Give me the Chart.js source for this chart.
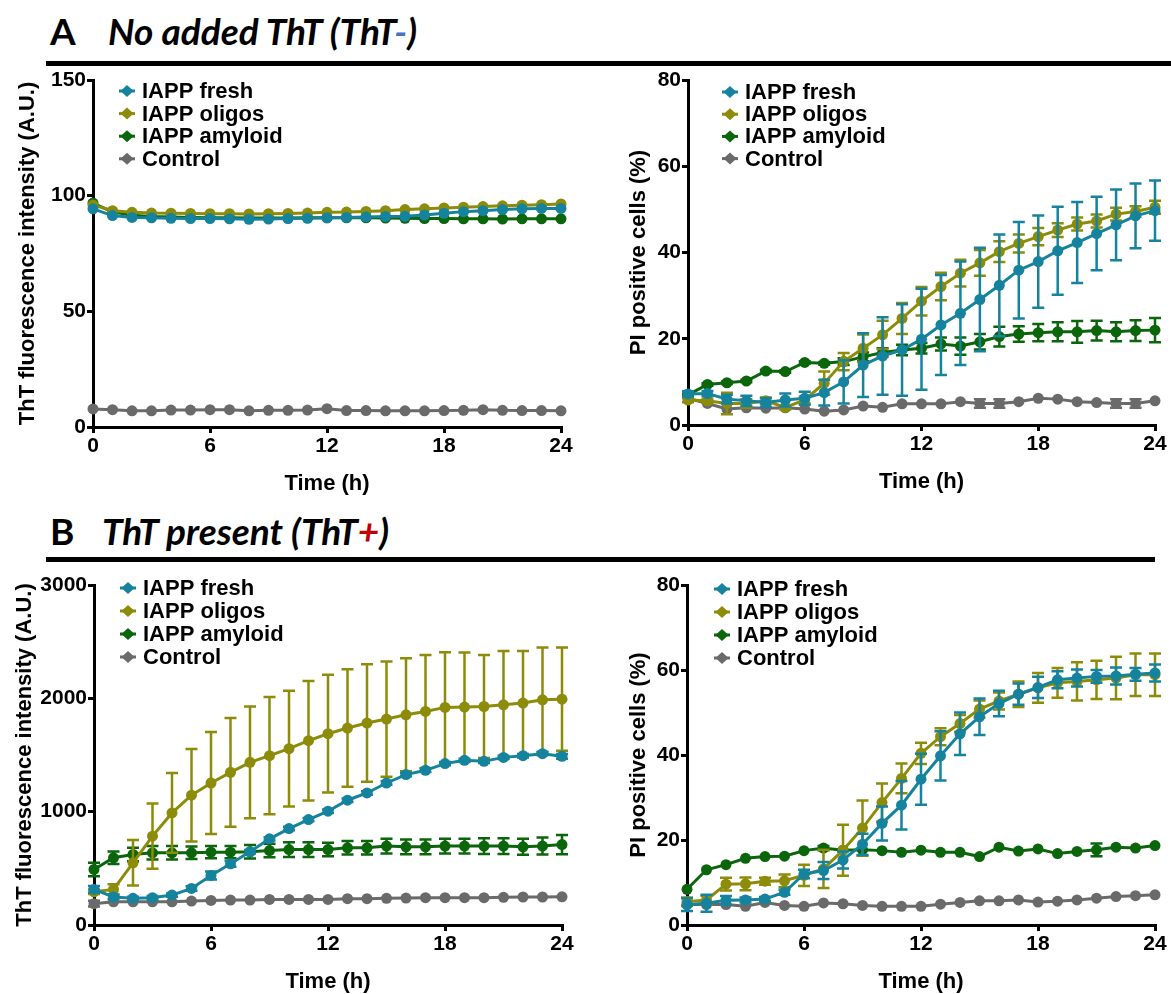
<!DOCTYPE html>
<html>
<head>
<meta charset="utf-8">
<script src="https://cdn.jsdelivr.net/npm/chart.js@4.4.1/dist/chart.umd.min.js"></script>
<style>
  html, body { margin: 0; padding: 0; background: #fff; }
  #page { position: relative; width: 1171px; height: 994px; overflow: hidden; }
  canvas { position: absolute; }
  .hdr { position: absolute; font-family: Lato, "Open Sans", sans-serif; font-weight: 700; font-size: 37px; line-height: 37px; color: #000; white-space: nowrap; }
  .hdr i { font-style: italic; }
  .rule { position: absolute; height: 5px; background: #000; }
</style>
</head>
<body>
<div id="page">
  <div class="hdr" style="left:50px; top:12px">A</div>
  <div class="hdr" style="left:108px; top:12px"><i>No added ThT (ThT<span style="color:#4472c4">-</span>)</i></div>
  <div class="rule" style="left:46px; top:61px; width:1125px"></div>

  <div class="hdr" style="left:50px; top:512px">B</div>
  <div class="hdr" style="left:102px; top:512px"><i>ThT present (ThT<span style="color:#c00000">+</span>)</i></div>
  <div class="rule" style="left:46px; top:557px; width:1109px"></div>

  <canvas id="aFluo" width="590" height="444" style="left:0; top:66px"></canvas>
  <canvas id="aPi" width="576" height="444" style="left:595px; top:66px"></canvas>
  <canvas id="bFluo" width="590" height="428" style="left:0; top:566px"></canvas>
  <canvas id="bPi" width="576" height="428" style="left:595px; top:566px"></canvas>
</div>

<script>
// Data
const hours = [0, 1, 2, 3, 4, 5, 6, 7, 8, 9, 10, 11, 12, 13, 14, 15, 16, 17, 18, 19, 20, 21, 22, 23, 24];
const timeTicks = [0, 6, 12, 18, 24];
const fluoTicksA = [0, 50, 100, 150];
const fluoTicksB = [0, 1000, 2000, 3000];
const piTicks = [0, 20, 40, 60, 80];
const seriesNames = ["IAPP fresh", "IAPP oligos", "IAPP amyloid", "Control"];

// A: no added ThT, ThT fluorescence
const aFluoFresh = [94.3, 91.4, 90.6, 90.4, 90.2, 90.1, 90.1, 90.0, 89.8, 89.9, 90.1, 90.2, 90.4, 90.6, 90.8, 91.0, 91.1, 91.6, 92.4, 93.1, 93.5, 94.0, 94.3, 94.5, 94.5];
const aFluoOligos = [96.0, 93.5, 92.8, 92.5, 92.4, 92.3, 92.2, 92.2, 92.1, 92.2, 92.3, 92.5, 92.8, 92.9, 93.2, 93.5, 94.0, 94.3, 94.7, 95.0, 95.3, 95.6, 95.9, 96.1, 96.4];
const aFluoAmyloid = [96.8, 93.0, 91.5, 91.0, 90.8, 90.6, 90.5, 90.4, 90.3, 90.3, 90.3, 90.4, 90.4, 90.4, 90.4, 90.3, 90.2, 90.1, 90.1, 90.0, 90.0, 89.9, 90.0, 90.0, 90.0];
const aFluoControl = [7.8, 7.5, 7.0, 7.0, 7.3, 7.3, 7.5, 7.5, 7.0, 7.2, 7.2, 7.3, 7.9, 7.1, 7.1, 7.0, 7.0, 7.0, 7.1, 7.2, 7.5, 7.2, 7.1, 7.1, 7.0];

// A: no added ThT, PI positive cells
const aPiFresh = [7.2, 7.3, 6.0, 5.6, 5.2, 5.8, 6.2, 7.5, 10.0, 13.9, 16.0, 17.4, 19.9, 23.2, 25.9, 29.1, 32.4, 35.9, 37.9, 40.4, 42.3, 44.4, 46.4, 48.5, 49.7];
const aPiFreshErr = [0.6, 0.6, 1.0, 1.2, 1.0, 1.5, 1.5, 3.0, 5.0, 7.4, 9.0, 10.6, 11.7, 11.6, 12.0, 12.0, 11.8, 11.2, 10.7, 10.2, 9.4, 8.5, 8.2, 7.5, 7.0];
const aPiOligos = [5.8, 5.6, 5.0, 5.0, 5.6, 4.1, 5.8, 9.7, 14.7, 17.8, 20.9, 24.7, 28.7, 32.1, 35.2, 37.6, 40.2, 42.1, 43.7, 45.2, 46.6, 47.3, 48.9, 49.5, 50.5];
const aPiOligosErr = [0.5, 0.5, 2.5, 1.0, 0.8, 0.5, 0.8, 2.7, 2.0, 3.2, 3.3, 3.6, 3.3, 3.2, 3.1, 3.0, 2.4, 2.1, 2.0, 1.6, 1.5, 1.5, 1.5, 1.2, 1.5];
const aPiAmyloid = [7.0, 9.4, 9.8, 10.2, 12.5, 12.4, 14.5, 14.3, 14.7, 15.8, 16.8, 17.4, 17.8, 18.8, 18.3, 19.3, 20.5, 21.1, 21.4, 21.6, 21.6, 21.9, 21.6, 21.9, 22.0];
const aPiAmyloidErr = [0.3, 0.3, 0.3, 0.3, 0.3, 0.3, 0.3, 0.3, 0.8, 1.0, 1.0, 1.2, 1.2, 1.5, 2.0, 1.8, 2.3, 1.8, 2.0, 2.2, 2.5, 2.3, 2.2, 2.4, 2.8];
const aPiControl = [6.2, 5.0, 3.7, 4.0, 3.9, 4.0, 3.7, 3.2, 3.5, 4.4, 4.1, 4.9, 4.9, 4.9, 5.4, 5.0, 5.0, 5.4, 6.2, 6.0, 5.4, 5.2, 5.0, 5.0, 5.6];
const aPiControlErr = [0, 0, 0, 0, 0, 0, 0, 0, 0, 0, 0, 0, 0, 0, 0, 1.0, 1.0, 0, 0, 0, 0, 0, 1.0, 1.0, 0];

// B: ThT present, ThT fluorescence
const bFluoFresh = [314, 247, 235, 241, 264, 323, 437, 540, 646, 760, 851, 930, 1004, 1101, 1165, 1253, 1327, 1365, 1424, 1453, 1444, 1479, 1494, 1512, 1488];
const bFluoFreshErr = [30, 20, 15, 15, 15, 20, 35, 25, 15, 15, 15, 15, 15, 15, 15, 15, 15, 15, 15, 15, 15, 15, 15, 15, 20];
const bFluoOligos = [293, 314, 549, 784, 989, 1145, 1253, 1347, 1435, 1494, 1556, 1626, 1688, 1738, 1782, 1817, 1855, 1884, 1920, 1923, 1928, 1943, 1958, 1987, 1993];
const bFluoOligosErr = [20, 45, 200, 287, 352, 408, 449, 479, 493, 517, 510, 528, 519, 519, 519, 508, 499, 499, 487, 481, 455, 475, 460, 461, 455];
const bFluoAmyloid = [490, 593, 622, 637, 637, 637, 643, 643, 646, 657, 666, 666, 666, 681, 681, 696, 690, 690, 696, 696, 696, 696, 690, 696, 710];
const bFluoAmyloidErr = [60, 55, 60, 60, 60, 55, 55, 55, 60, 60, 65, 65, 60, 60, 60, 65, 65, 65, 65, 65, 70, 70, 70, 75, 85];
const bFluoControl = [188, 205, 205, 205, 205, 211, 217, 220, 220, 226, 226, 226, 226, 232, 232, 235, 238, 241, 241, 241, 241, 244, 247, 247, 249];
const bFluoControlErr = [25, 0, 0, 0, 0, 0, 0, 0, 0, 0, 0, 0, 0, 0, 0, 0, 0, 0, 0, 0, 0, 0, 0, 0, 0];

// B: ThT present, PI positive cells
const bPiFresh = [4.8, 5.1, 5.8, 5.9, 6.1, 7.7, 12.0, 12.8, 15.3, 19.0, 23.9, 28.2, 34.3, 39.8, 45.0, 49.0, 52.1, 54.3, 55.9, 57.7, 58.1, 58.5, 58.6, 59.0, 59.3];
const bPiFreshErr = [1.5, 2.0, 1.0, 0.6, 0.5, 0.6, 1.0, 2.0, 2.0, 2.5, 4.0, 5.7, 6.0, 5.8, 5.0, 4.3, 3.0, 2.5, 2.5, 2.0, 2.0, 1.5, 2.0, 1.5, 2.0];
const bPiOligos = [5.5, 5.9, 9.6, 9.7, 10.3, 10.4, 11.7, 13.2, 17.6, 22.8, 28.8, 34.5, 40.4, 44.3, 47.4, 50.8, 52.7, 54.3, 55.8, 57.0, 57.3, 57.7, 58.1, 58.9, 58.9];
const bPiOligosErr = [1.0, 1.0, 1.5, 1.5, 0.8, 1.5, 2.5, 4.5, 6.0, 6.5, 4.5, 3.5, 2.5, 2.0, 2.0, 2.0, 2.0, 3.0, 3.5, 3.5, 4.5, 4.5, 5.0, 5.0, 5.0];
const bPiAmyloid = [8.4, 13.0, 14.2, 15.7, 16.1, 16.2, 17.5, 18.1, 17.6, 17.7, 17.5, 17.1, 17.6, 17.1, 17.1, 16.1, 18.3, 17.4, 17.9, 16.8, 17.3, 17.7, 18.3, 18.1, 18.7];
const bPiAmyloidErr = [0, 0, 0, 0, 0, 0, 0, 0.5, 0, 0, 0, 0, 0, 0, 0, 0, 0, 0, 0, 0, 0, 1.5, 0, 0, 0];
const bPiControl = [4.8, 4.8, 4.8, 4.4, 5.3, 4.6, 4.4, 5.2, 5.0, 4.6, 4.4, 4.4, 4.4, 4.9, 5.3, 5.7, 5.7, 5.9, 5.4, 5.6, 5.9, 6.3, 6.7, 6.9, 7.1];

// Styles
const colors = ["#15839e", "#8c8c0a", "#0b650b", "#6a6a6a"];
const fontFamily = '"Liberation Sans", Arial, sans-serif';

// Plugins
const errorBars = {
  id: "errorBars",
  afterDatasetDraw(chart, args) {
    const ds = chart.data.datasets[args.index];
    if (!ds.errors) return;
    const { ctx } = chart;
    const xs = chart.scales.x;
    const ys = chart.scales.y;
    ctx.save();
    ctx.strokeStyle = ds.borderColor;
    ctx.lineWidth = 2.5;
    ds.data.forEach((p, i) => {
      const e = ds.errors[i];
      if (!e) return;
      const px = xs.getPixelForValue(p.x);
      const top = ys.getPixelForValue(p.y + e);
      const bot = ys.getPixelForValue(p.y - e);
      ctx.beginPath();
      ctx.moveTo(px, top);
      ctx.lineTo(px, bot);
      ctx.moveTo(px - 6, top);
      ctx.lineTo(px + 6, top);
      ctx.moveTo(px - 6, bot);
      ctx.lineTo(px + 6, bot);
      ctx.stroke();
    });
    ctx.restore();
  },
};

// legend drawn inside the plot area, like Prism does
const insideLegend = {
  id: "insideLegend",
  afterDraw(chart, args, opts) {
    const { ctx, chartArea } = chart;
    ctx.save();
    ctx.font = `bold 22px ${fontFamily}`;
    ctx.textBaseline = "middle";
    chart.data.datasets.forEach((ds, i) => {
      const cx = chartArea.left + opts.x;
      const cy = chartArea.top + opts.y + i * opts.step;
      ctx.fillStyle = ds.borderColor;
      ctx.strokeStyle = ds.borderColor;
      ctx.lineWidth = 3;
      ctx.beginPath();
      ctx.moveTo(cx - 8, cy);
      ctx.lineTo(cx + 8, cy);
      ctx.stroke();
      ctx.beginPath();
      ctx.moveTo(cx - 6.5, cy);
      ctx.lineTo(cx, cy - 6);
      ctx.lineTo(cx + 6.5, cy);
      ctx.lineTo(cx, cy + 6);
      ctx.closePath();
      ctx.fill();
      ctx.fillStyle = "#000";
      ctx.fillText(ds.label, cx + 15, cy + 1);
    });
    ctx.restore();
  },
};

// Builders
const makeDataset = (i, values, errors) => ({
  label: seriesNames[i],
  data: hours.map((h, k) => ({ x: h, y: values[k] })),
  errors: errors || null,
  borderColor: colors[i],
  backgroundColor: colors[i],
  pointBackgroundColor: colors[i],
  pointBorderWidth: 0,
  pointRadius: 5.5,
  borderWidth: 3,
  tension: 0,
  clip: false,
});

const axisFont = (size) => ({ family: fontFamily, size, weight: "bold" });

const makeChart = (id, cfg) => {
  const canvas = document.getElementById(id);
  const cw = canvas.width;
  const ch = canvas.height;
  const top = parseInt(canvas.style.top, 10);
  const left = parseInt(canvas.style.left, 10) || 0;
  const a = cfg.area;
  const xh = 70;

  return new Chart(canvas.getContext("2d"), {
    type: "line",
    data: { datasets: cfg.datasets },
    plugins: [errorBars, insideLegend],
    options: {
      responsive: false,
      animation: false,
      devicePixelRatio: 1,
      layout: {
        padding: {
          left: 0,
          top: a.t - top,
          right: left + cw - a.r,
          bottom: top + ch - a.b - xh,
        },
      },
      plugins: {
        legend: { display: false },
        tooltip: { enabled: false },
        insideLegend: cfg.legend,
      },
      scales: {
        x: {
          type: "linear",
          min: 0,
          max: 24,
          afterBuildTicks: (s) => { s.ticks = timeTicks.map((v) => ({ value: v })); },
          afterFit: (s) => { s.height = xh; },
          grid: { drawOnChartArea: false, color: "#000", lineWidth: 3, tickLength: 6 },
          border: { color: "#000", width: 3 },
          ticks: { color: "#000", font: axisFont(21), padding: 1, maxRotation: 0, callback: (v) => String(v) },
          title: { display: true, text: "Time (h)", color: "#000", font: axisFont(22), padding: { top: 0, bottom: 0 } },
        },
        y: {
          min: 0,
          max: cfg.yMax,
          afterBuildTicks: (s) => { s.ticks = cfg.yTicks.map((v) => ({ value: v })); },
          afterFit: (s) => { s.width = a.l - left; },
          grid: { drawOnChartArea: false, color: "#000", lineWidth: 3, tickLength: 6 },
          border: { color: "#000", width: 3 },
          ticks: { color: "#000", font: axisFont(21), padding: 1, callback: (v) => String(v) },
          title: { display: true, text: cfg.yTitle, color: "#000", font: axisFont(22), padding: { top: cfg.titlePad, bottom: 0 } },
        },
      },
    },
  });
};

// Initialize
const fluoTitle = "ThT fluorescence intensity (A.U.)";
const piTitle = "PI positive cells (%)";

makeChart("aFluo", {
  area: { l: 93, t: 80, r: 561, b: 427 },
  yMax: 150, yTicks: fluoTicksA, yTitle: fluoTitle, titlePad: 15,
  legend: { x: 34, y: 11, step: 22.6 },
  datasets: [
    makeDataset(0, aFluoFresh),
    makeDataset(1, aFluoOligos),
    makeDataset(2, aFluoAmyloid),
    makeDataset(3, aFluoControl),
  ],
});

makeChart("aPi", {
  area: { l: 688, t: 80, r: 1155, b: 425 },
  yMax: 80, yTicks: piTicks, yTitle: piTitle, titlePad: 31,
  legend: { x: 42, y: 12, step: 22.2 },
  datasets: [
    makeDataset(0, aPiFresh, aPiFreshErr),
    makeDataset(1, aPiOligos, aPiOligosErr),
    makeDataset(2, aPiAmyloid, aPiAmyloidErr),
    makeDataset(3, aPiControl, aPiControlErr),
  ],
});

makeChart("bFluo", {
  area: { l: 94, t: 585, r: 562, b: 925 },
  yMax: 3000, yTicks: fluoTicksB, yTitle: fluoTitle, titlePad: 12,
  legend: { x: 34, y: 3, step: 23 },
  datasets: [
    makeDataset(0, bFluoFresh, bFluoFreshErr),
    makeDataset(1, bFluoOligos, bFluoOligosErr),
    makeDataset(2, bFluoAmyloid, bFluoAmyloidErr),
    makeDataset(3, bFluoControl, bFluoControlErr),
  ],
});

makeChart("bPi", {
  area: { l: 687, t: 585, r: 1155, b: 925 },
  yMax: 80, yTicks: piTicks, yTitle: piTitle, titlePad: 31,
  legend: { x: 35, y: 4, step: 23 },
  datasets: [
    makeDataset(0, bPiFresh, bPiFreshErr),
    makeDataset(1, bPiOligos, bPiOligosErr),
    makeDataset(2, bPiAmyloid, bPiAmyloidErr),
    makeDataset(3, bPiControl),
  ],
});
</script>
</body>
</html>
